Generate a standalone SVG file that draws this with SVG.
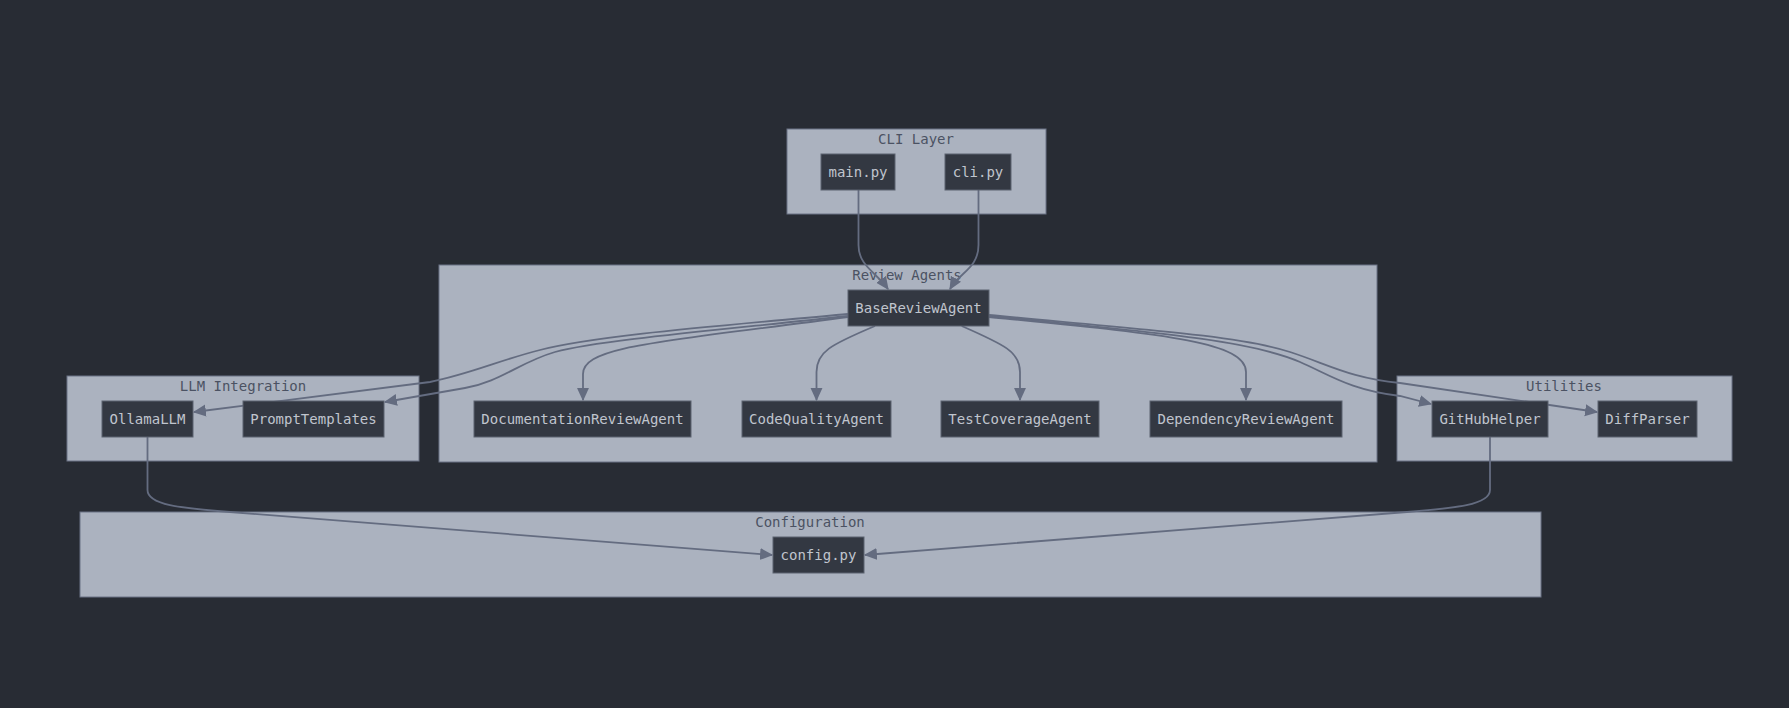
<svg xmlns="http://www.w3.org/2000/svg" width="1789" height="708" viewBox="0 0 1789 708">
<defs>
<style>
.grp{fill:#abb2bf;stroke:#6b7385;stroke-width:1}
.gt{font-family:"DejaVu Sans Mono",monospace;font-size:14px;fill:#4b5263;text-anchor:middle;dominant-baseline:central}
.nd{fill:#333842;stroke:#5c6370;stroke-width:1}
.nt{font-family:"DejaVu Sans Mono",monospace;font-size:14px;fill:#c0c5ce;text-anchor:middle;dominant-baseline:central}
.e{fill:none;stroke:#646c80;stroke-width:1.8;marker-end:url(#ah)}
</style>
<marker id="ah" viewBox="0 0 12 12" refX="11" refY="6" markerWidth="13" markerHeight="13" markerUnits="userSpaceOnUse" orient="auto">
<path d="M0,0.5 L12,6 L0,11.5 Z" fill="#646c80"/>
</marker>
</defs>
<rect width="1789" height="708" fill="#282c34"/>

<g id="cluster-cli">
<rect class="grp" x="787" y="129" width="259" height="85"/>
<text class="gt" x="916" y="139">CLI Layer</text>
</g>
<g id="cluster-agents">
<rect class="grp" x="439" y="265" width="938" height="197"/>
<text class="gt" x="907" y="275">Review Agents</text>
</g>
<g id="cluster-llm">
<rect class="grp" x="67" y="376" width="352" height="85"/>
<text class="gt" x="243" y="386">LLM Integration</text>
</g>
<g id="cluster-utils">
<rect class="grp" x="1397" y="376" width="335" height="85"/>
<text class="gt" x="1564" y="386">Utilities</text>
</g>
<g id="cluster-config">
<rect class="grp" x="80" y="512" width="1461" height="85"/>
<text class="gt" x="810" y="522">Configuration</text>
</g>

<g id="connectors">
<path class="e" d="M858.5,190 L858.5,245 C858.5,266 876,272 888,289"/>
<path class="e" d="M978.5,190 L978.5,245 C978.5,268 960,272 950,289"/>
<path class="e" d="M848,317 C660,342 583,346 583,374 L583,400"/>
<path class="e" d="M875,326 C830,345 816.5,352 816.5,372 L816.5,400"/>
<path class="e" d="M961.7,326 C1005,345 1020,352 1020,372 L1020,400"/>
<path class="e" d="M989,317 C1160,334 1246,341 1246,372 L1246,400"/>
<path class="e" d="M848,314 C720,326 600,335 540,350 C500,360 470,374 430,382 L194,412"/>
<path class="e" d="M848,316 C720,330 600,340 555,352 C520,362 500,382 465,388 L385,402"/>
<path class="e" d="M989,316 C1150,332 1250,340 1300,362 C1330,375 1350,390 1400,396 L1431,404"/>
<path class="e" d="M989,315 C1150,330 1240,336 1290,352 C1330,365 1350,378 1400,383 L1597,412"/>
<path class="e" d="M147.5,437 L147.5,490 C147.5,505 180,508 230,512 L772,555"/>
<path class="e" d="M1490,437 L1490,490 C1490,505 1455,508 1407,512 L865,555"/>
</g>

<g id="node-main">
<rect class="nd" x="821" y="154" width="74" height="36"/>
<text class="nt" x="858" y="172">main.py</text>
</g>
<g id="node-cli">
<rect class="nd" x="945" y="154" width="66" height="36"/>
<text class="nt" x="978" y="172">cli.py</text>
</g>
<g id="node-base">
<rect class="nd" x="848" y="290" width="141" height="36"/>
<text class="nt" x="918.5" y="308">BaseReviewAgent</text>
</g>
<g id="node-doc">
<rect class="nd" x="474" y="401" width="217" height="36"/>
<text class="nt" x="582.5" y="419">DocumentationReviewAgent</text>
</g>
<g id="node-code">
<rect class="nd" x="742" y="401" width="149" height="36"/>
<text class="nt" x="816.5" y="419">CodeQualityAgent</text>
</g>
<g id="node-test">
<rect class="nd" x="941" y="401" width="158" height="36"/>
<text class="nt" x="1020" y="419">TestCoverageAgent</text>
</g>
<g id="node-dep">
<rect class="nd" x="1150" y="401" width="192" height="36"/>
<text class="nt" x="1246" y="419">DependencyReviewAgent</text>
</g>
<g id="node-ollama">
<rect class="nd" x="102" y="401" width="91" height="36"/>
<text class="nt" x="147.5" y="419">OllamaLLM</text>
</g>
<g id="node-prompt">
<rect class="nd" x="243" y="401" width="141" height="36"/>
<text class="nt" x="313.5" y="419">PromptTemplates</text>
</g>
<g id="node-github">
<rect class="nd" x="1432" y="401" width="116" height="36"/>
<text class="nt" x="1490" y="419">GitHubHelper</text>
</g>
<g id="node-diff">
<rect class="nd" x="1598" y="401" width="99" height="36"/>
<text class="nt" x="1647.5" y="419">DiffParser</text>
</g>
<g id="node-config">
<rect class="nd" x="773" y="537" width="91" height="36"/>
<text class="nt" x="818.5" y="555">config.py</text>
</g>
</svg>
